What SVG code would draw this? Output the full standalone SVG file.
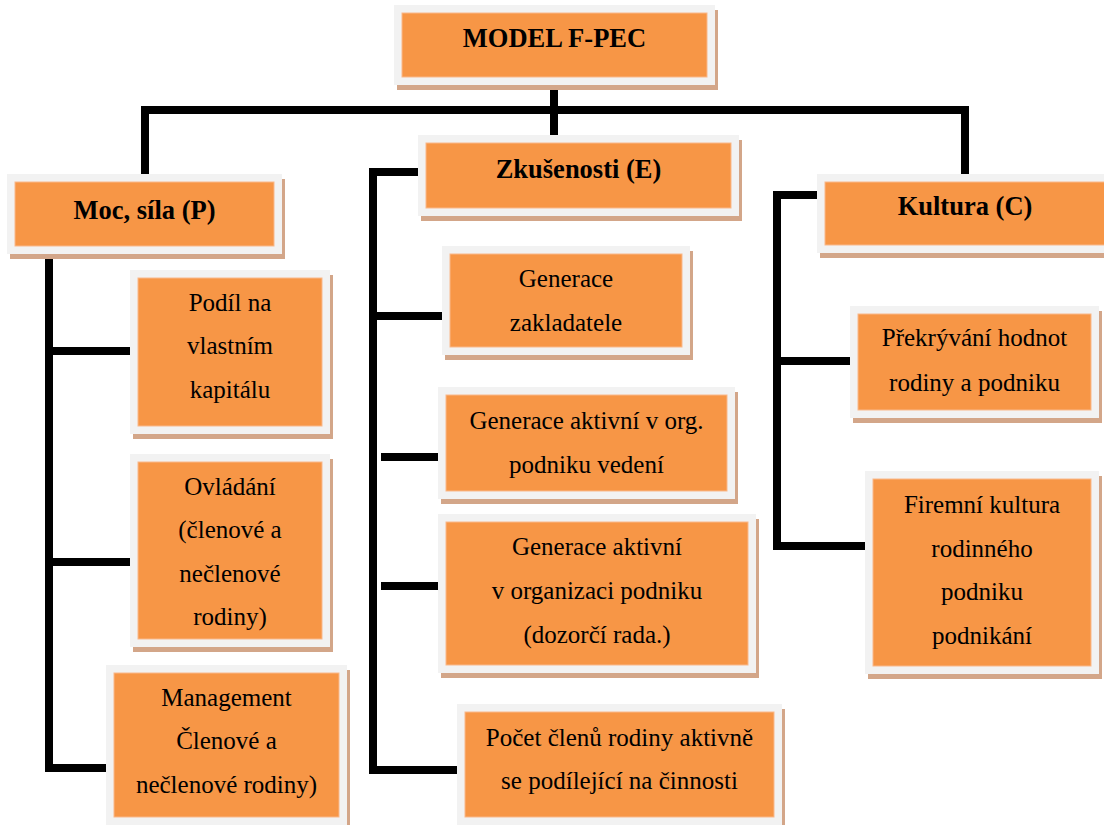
<svg xmlns="http://www.w3.org/2000/svg" width="1104" height="825" viewBox="0 0 1104 825">
<style>
.sh{fill:#d3a689}
.fr{fill:#f2f2f2}
.in{fill:#f79646;stroke:#f9b88a;stroke-width:1}
text{font-family:'Liberation Serif','DejaVu Serif',Times,serif;fill:#000;text-anchor:middle}
.b{font-weight:bold;font-size:26.5px}
.t{font-size:25px}
.c{fill:none;stroke:#000;stroke-width:8;stroke-linejoin:miter;stroke-linecap:butt}
</style>
<rect width="1104" height="825" fill="#fff"/>
<g id="connectors">
<path class="c" d="M554 85V114"/>
<path class="c" d="M141 110H969"/>
<path class="c" d="M145 106V174"/>
<path class="c" d="M554 110V136"/>
<path class="c" d="M965 106V174"/>
<path class="c" d="M49 253V768H106"/>
<path class="c" d="M49 351H130"/>
<path class="c" d="M49 562H130"/>
<path class="c" d="M418 172H373V770H457"/>
<path class="c" d="M373 316H443"/>
<path class="c" d="M381 457H438"/>
<path class="c" d="M381 586H440"/>
<path class="c" d="M817 195H777V546H865"/>
<path class="c" d="M781 361H852"/>
</g>
<g font-family="Liberation Serif, serif">
<g id="model">
<rect class="sh" x="397" y="10" width="321" height="80"/>
<rect class="fr" x="394" y="5" width="321" height="80"/>
<rect class="in" x="402" y="13" width="305" height="64"/>
<text class="b" x="554.5" y="47">MODEL F-PEC</text>
</g>
<g id="moc">
<rect class="sh" x="10" y="179" width="275" height="80"/>
<rect class="fr" x="7" y="174" width="275" height="80"/>
<rect class="in" x="15" y="182" width="259" height="64"/>
<text class="b" x="144.5" y="219">Moc, síla (P)</text>
</g>
<g id="zkusenosti">
<rect class="sh" x="421" y="140" width="321" height="81"/>
<rect class="fr" x="418" y="135" width="321" height="81"/>
<rect class="in" x="426" y="143" width="305" height="65"/>
<text class="b" x="578.5" y="178">Zkušenosti (E)</text>
</g>
<g id="kultura">
<rect class="sh" x="820" y="179" width="296" height="79"/>
<rect class="fr" x="817" y="174" width="296" height="79"/>
<rect class="in" x="825" y="182" width="280" height="63"/>
<text class="b" x="965" y="215">Kultura (C)</text>
</g>
<g id="podil">
<rect class="sh" x="133" y="275" width="200" height="164"/>
<rect class="fr" x="130" y="270" width="200" height="164"/>
<rect class="in" x="138" y="278" width="184" height="148"/>
<text class="t" x="230" y="311">Podíl na</text>
<text class="t" x="230" y="354">vlastním</text>
<text class="t" x="230" y="398">kapitálu</text>
</g>
<g id="ovladani">
<rect class="sh" x="133" y="459" width="200" height="193"/>
<rect class="fr" x="130" y="454" width="200" height="193"/>
<rect class="in" x="138" y="462" width="184" height="177"/>
<text class="t" x="230" y="495">Ovládání</text>
<text class="t" x="230" y="538">(členové a</text>
<text class="t" x="230" y="582">nečlenové</text>
<text class="t" x="230" y="625">rodiny)</text>
</g>
<g id="management">
<rect class="sh" x="109" y="670" width="241" height="160"/>
<rect class="fr" x="106" y="665" width="241" height="160"/>
<rect class="in" x="114" y="673" width="225" height="144"/>
<text class="t" x="226.5" y="706">Management</text>
<text class="t" x="226.5" y="749">Členové a</text>
<text class="t" x="226.5" y="793">nečlenové rodiny)</text>
</g>
<g id="generace-zakladatele">
<rect class="sh" x="445" y="251" width="248" height="109"/>
<rect class="fr" x="442" y="246" width="248" height="109"/>
<rect class="in" x="450" y="254" width="232" height="93"/>
<text class="t" x="566" y="287">Generace</text>
<text class="t" x="566" y="331">zakladatele</text>
</g>
<g id="generace-vedeni">
<rect class="sh" x="441" y="392" width="297" height="112"/>
<rect class="fr" x="438" y="387" width="297" height="112"/>
<rect class="in" x="446" y="395" width="281" height="96"/>
<text class="t" x="586.5" y="429">Generace aktivní v org.</text>
<text class="t" x="586.5" y="473">podniku vedení</text>
</g>
<g id="generace-dozor">
<rect class="sh" x="441" y="519" width="318" height="159"/>
<rect class="fr" x="438" y="514" width="318" height="159"/>
<rect class="in" x="446" y="522" width="302" height="143"/>
<text class="t" x="597" y="555">Generace aktivní</text>
<text class="t" x="597" y="599">v organizaci podniku</text>
<text class="t" x="597" y="643">(dozorčí rada.)</text>
</g>
<g id="pocet">
<rect class="sh" x="460" y="709" width="325" height="121"/>
<rect class="fr" x="457" y="704" width="325" height="121"/>
<rect class="in" x="465" y="712" width="309" height="105"/>
<text class="t" x="619.5" y="746">Počet členů rodiny aktivně</text>
<text class="t" x="619.5" y="789">se podílející na činnosti</text>
</g>
<g id="prekryvani">
<rect class="sh" x="853" y="311" width="249" height="112"/>
<rect class="fr" x="850" y="306" width="249" height="112"/>
<rect class="in" x="858" y="314" width="233" height="96"/>
<text class="t" x="974.5" y="346">Překrývání hodnot</text>
<text class="t" x="974.5" y="391">rodiny a podniku</text>
</g>
<g id="firemni">
<rect class="sh" x="868" y="476" width="234" height="203"/>
<rect class="fr" x="865" y="471" width="234" height="203"/>
<rect class="in" x="873" y="479" width="218" height="187"/>
<text class="t" x="982" y="513">Firemní kultura</text>
<text class="t" x="982" y="557">rodinného</text>
<text class="t" x="982" y="600">podniku</text>
<text class="t" x="982" y="644">podnikání</text>
</g>
</g>
</svg>
